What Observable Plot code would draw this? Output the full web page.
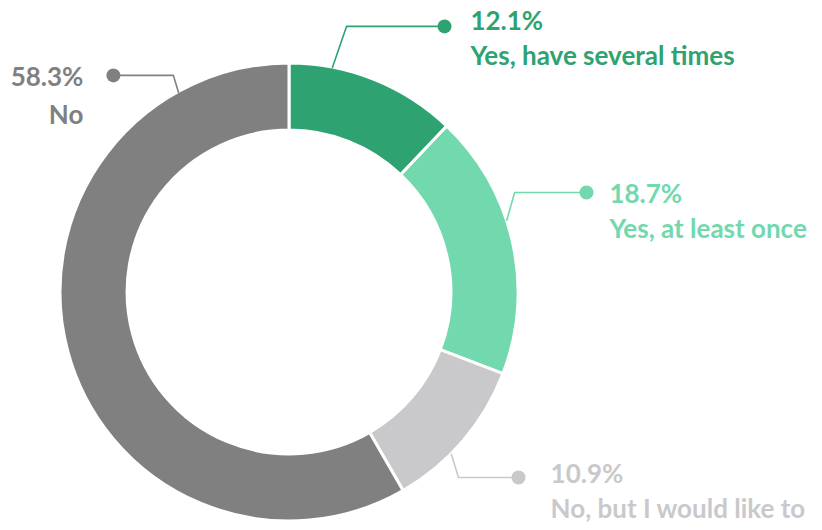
<!DOCTYPE html>
<html>
<head>
<meta charset="utf-8">
<script src="https://cdn.jsdelivr.net/npm/d3@7"></script>
<script src="https://cdn.jsdelivr.net/npm/@observablehq/plot@0.6"></script>
<style>
  html, body { margin: 0; padding: 0; background: #fff; }
</style>
</head>
<body>
<div id="chart"></div>
<script>
// ---- data ----
const categories = ["Yes, have several times", "Yes, at least once", "No, but I would like to", "No"];
const values = [12.1, 18.7, 10.9, 58.3];
const valueLabels = ["12.1%", "18.7%", "10.9%", "58.3%"];
const colors = ["#2ea371", "#72d8ad", "#c9c9cb", "#808080"];

// ---- label layout (data units: ring outer radius = 1) ----
const leaderAngle = [10.8, 71.6, 135, 331];          // degrees, where the leader touches the ring
const elbowX = [0.249, 0.983, 0.738, -0.507];
const elbowY = [1.162, 0.437, -0.808, 0.948];
const dotX = [0.677, 1.297, 1.0, -0.769];
const textX = [0.790, 1.397, 1.140, -0.900];
const textY = [1.118, 0.363, -0.861, 0.872];
const textLineHeight = [1.35, 1.35, 1.35, 1.45];
const textAnchor = ["start", "start", "start", "end"];

const innerRatio = 0.707;

const slices = d3.pie().sort(null).startAngle(0).endAngle(2 * Math.PI)(values);

const labels = categories.map((c, i) => ({
  cat: c, value: valueLabels[i], color: colors[i],
  tx: textX[i], ty: textY[i], anchor: textAnchor[i], dx: dotX[i], dy: elbowY[i], lh: textLineHeight[i]
}));

const leaders = categories.flatMap((c, i) => {
  const a = leaderAngle[i] * Math.PI / 180;
  return [
    {cat: c, color: colors[i], x: Math.sin(a), y: Math.cos(a)},
    {cat: c, color: colors[i], x: elbowX[i], y: elbowY[i]},
    {cat: c, color: colors[i], x: dotX[i], y: elbowY[i]}
  ];
});

function ring(index, scales) {
  const cx = scales.x(0), cy = scales.y(0);
  const R = scales.x(1) - scales.x(0);
  const arc = d3.arc().outerRadius(R).innerRadius(R * innerRatio);
  const g = d3.create("svg:g").attr("transform", `translate(${cx},${cy})`);
  g.selectAll("path")
    .data(slices)
    .join("path")
    .attr("d", arc)
    .attr("fill", (d, i) => colors[i])
    .attr("stroke", "#fff")
    .attr("stroke-width", 3)
    .attr("stroke-linejoin", "round");
  return g.node();
}

const textMarks = labels.map(d => Plot.text([d], {
  x: "tx", y: "ty", text: (d) => d.value + "\n" + d.cat,
  fill: d.color, textAnchor: d.anchor, fontSize: 26, fontWeight: "bold", lineHeight: d.lh
}));

const chart = Plot.plot({
  width: 822,
  height: 530,
  marginLeft: 60,
  marginRight: 304,
  marginTop: 63,
  marginBottom: 9,
  x: {domain: [-1, 1], axis: null},
  y: {domain: [-1, 1], axis: null},
  style: {fontFamily: "Lato, 'Open Sans', sans-serif", background: "#fff"},
  marks: [
    ring,
    Plot.line(leaders, {x: "x", y: "y", z: "cat", stroke: (d) => d.color, strokeWidth: 1.6}),
    Plot.dot(labels, {x: "dx", y: "dy", r: 7, fill: (d) => d.color, stroke: null}),
    ...textMarks
  ]
});

document.getElementById("chart").appendChild(chart);
</script>
</body>
</html>
